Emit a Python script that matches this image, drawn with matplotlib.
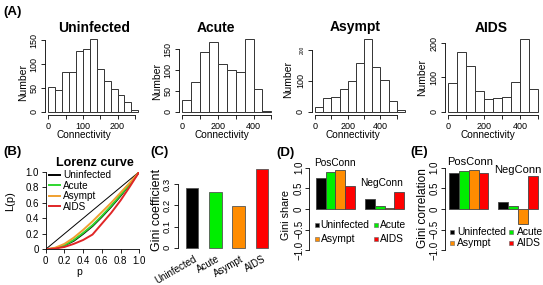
import numpy as np
import matplotlib
matplotlib.use("Agg")
import matplotlib.pyplot as plt

plt.rcParams["font.family"] = ["Liberation Sans", "DejaVu Sans"]
plt.rcParams["axes.linewidth"] = 0.6

W, H = 543, 285

groups = ["Uninfected", "Acute", "Asympt", "AIDS"]
bar_colors = ["#000000", "#00ee00", "#ff8c00", "#ff0000"]
line_colors = ["#000000", "#2fd62f", "#f0a030", "#e02626"]

# (A) connectivity histograms: bin edges and counts per stage
unin_edges = [0, 20, 40, 60, 80, 100, 120, 140, 160, 180, 200, 220, 240, 260]
unin_counts = [51, 45, 83, 83, 127, 131, 152, 89, 65, 47, 35, 21, 3]
acute_edges = [0, 50, 100, 150, 200, 250, 300, 350, 400, 450, 500]
acute_counts = [27, 72, 144, 168, 115, 99, 95, 174, 54, 1]
asympt_edges = [0, 50, 100, 150, 200, 250, 300, 350, 400, 450, 500, 550]
asympt_counts = [14, 42, 48, 74, 100, 156, 233, 145, 103, 33, 4]
aids_edges = [0, 50, 100, 150, 200, 250, 300, 350, 400, 450, 500]
aids_counts = [85, 174, 134, 60, 36, 41, 44, 86, 212, 67]

hist_xticks = [[0, 50, 100, 150, 200, 250],
               [0, 100, 200, 300, 400, 500],
               [0, 100, 200, 300, 400, 500],
               [0, 100, 200, 300, 400, 500]]
hist_xticklabels = [["0", "", "100", "", "200", ""],
                    ["0", "", "200", "", "400", ""],
                    ["0", "", "200", "", "400", ""],
                    ["0", "", "200", "", "400", ""]]
hist_yticks = [[0, 50, 100, 150], [0, 50, 100, 150], [0, 100, 200], [0, 100, 200]]

# (B) Lorenz curves
lorenz_p = [0.0, 0.1, 0.2, 0.3, 0.4, 0.5, 0.6, 0.7, 0.8, 0.9, 1.0]
lorenz_unin = [0.0, 0.01, 0.05, 0.11, 0.20, 0.30, 0.42, 0.55, 0.69, 0.84, 1.0]
lorenz_acute = [0.0, 0.01, 0.05, 0.12, 0.21, 0.31, 0.43, 0.56, 0.70, 0.84, 1.0]
lorenz_asympt = [0.0, 0.02, 0.07, 0.15, 0.25, 0.36, 0.48, 0.60, 0.73, 0.86, 1.0]
lorenz_aids = [0.0, 0.01, 0.03, 0.07, 0.12, 0.19, 0.33, 0.47, 0.63, 0.81, 1.0]

# (C) Gini coefficient
gini = [0.28, 0.265, 0.197, 0.37]

# (D) Gini share, (E) Gini correlation
conn_types = ["PosConn", "NegConn"]
share_pos = [0.74, 0.90, 0.95, 0.56]
share_neg = [0.24, 0.07, 0.03, 0.41]
corr_pos = [0.86, 0.91, 0.95, 0.87]
corr_neg = [0.18, 0.08, -0.37, 0.79]

fig = plt.figure(figsize=(W / 100, H / 100), dpi=100)

ov = fig.add_axes([0, 0, 1, 1])
ov.set_xlim(0, W)
ov.set_ylim(H, 0)
ov.axis("off")
ov.set_zorder(10)


def add_box(box):
    l, t, r, b = box
    return fig.add_axes([l / W, 1 - b / H, (r - l) / W, (b - t) / H])


def label_at(axis, box, x, y):
    l, t, r, b = box
    axis.set_label_coords((x - l) / (r - l), (b - y) / (b - t))


def r_style(ax, offset=2.5):
    for s in ["top", "right"]:
        ax.spines[s].set_visible(False)
    ax.spines["left"].set_position(("outward", offset))
    ax.spines["bottom"].set_position(("outward", offset))
    ax.tick_params(direction="out", length=2.6, width=0.6, pad=2.2, labelsize=6.5)


# ---- (A)
hist_edges = [unin_edges, acute_edges, asympt_edges, aids_edges]
hist_counts = [unin_counts, acute_counts, asympt_counts, aids_counts]
hist_boxes = [(48.3, 39.3, 138.3, 111.5), (182.3, 39.3, 271.3, 111.5),
              (315, 39.3, 405, 111.5), (448.3, 39.3, 538.3, 111.5)]
title_xy = [(94.2, 31.5), (216, 31.5), (355, 31.5), (490.8, 31.5)]
ylab_xy = [(23, 82.5), (156.7, 81.7), (288.3, 79), (421.7, 77.5)]
xlab_xy = [(84, 134.5), (222, 134.5), (353.3, 134.5), (488.3, 134.5)]

for i, g in enumerate(groups):
    box = hist_boxes[i]
    ax = add_box(box)
    edges = np.array(hist_edges[i])
    counts = hist_counts[i]
    ax.bar(edges[:-1], counts, width=np.diff(edges), align="edge",
           color="white", edgecolor="#333333", linewidth=0.7, clip_on=False)
    ax.set_xlim(edges[0], edges[-1])
    ax.set_ylim(0, max(counts))
    r_style(ax)
    ax.set_xticks(hist_xticks[i], hist_xticklabels[i])
    ax.set_yticks(hist_yticks[i], [str(v) for v in hist_yticks[i]],
                  rotation=90, va="center")
    ax.spines["left"].set_bounds(0, hist_yticks[i][-1])
    ax.spines["bottom"].set_bounds(0, hist_xticks[i][-1])
    if g == "Asympt":
        ax.get_yticklabels()[-1].set_fontsize(3.5)
    ax.set_xlabel("Connectivity", fontsize=7.2, va="center")
    ax.set_ylabel("Number", fontsize=7.5, va="center")
    label_at(ax.xaxis, box, *xlab_xy[i])
    label_at(ax.yaxis, box, *ylab_xy[i])
    ov.text(title_xy[i][0], title_xy[i][1], g, fontsize=10, fontweight="bold",
            ha="center", va="baseline")

# ---- (B)
box_b = (45.7, 171.7, 139.3, 249.3)
axb = add_box(box_b)
axb.plot([0, 1], [0, 1], color="black", lw=0.7)
for ys, c in zip([lorenz_unin, lorenz_acute, lorenz_asympt, lorenz_aids], line_colors):
    axb.plot(lorenz_p, ys, color=c, lw=1.4)
axb.set_xlim(0, 1)
axb.set_ylim(0, 1)
r_style(axb, offset=0)
axb.tick_params(labelsize=7, length=3, pad=2)
ticks = [0, 0.2, 0.4, 0.6, 0.8, 1.0]
tlabels = ["0", "0.2", "0.4", "0.6", "0.8", "1.0"]
axb.set_xticks(ticks, tlabels)
axb.set_yticks(ticks, tlabels)
axb.set_xlabel("p", fontsize=7.5, va="center")
axb.set_ylabel("L(p)", fontsize=8, va="center")
label_at(axb.xaxis, box_b, 79, 271.7)
label_at(axb.yaxis, box_b, 10, 201)
handles = [plt.Line2D([], [], color=c, lw=1.4) for c in line_colors]
axb.legend(handles, groups, loc="upper left", bbox_to_anchor=(0.035, 1.02),
           frameon=False, fontsize=7.2, handlelength=1.1, handletextpad=0.3,
           labelspacing=0.05, borderaxespad=0, borderpad=0)
ov.text(95, 166.5, "Lorenz curve", fontsize=9, fontweight="bold",
        ha="center", va="baseline")

# ---- (C)
box_c = (181, 169, 271, 249)
axc = add_box(box_c)
xc = np.arange(len(groups))
axc.bar(xc, gini, width=0.545, color=bar_colors, edgecolor="#555555", linewidth=0.6)
axc.set_xlim(-0.47, 3.39)
axc.set_ylim(-0.006, 0.372)
r_style(axc, offset=2)
axc.spines["bottom"].set_visible(False)
axc.spines["left"].set_bounds(0, 0.3)
axc.set_yticks([0, 0.1, 0.2, 0.3], ["0", "0.1", "0.2", "0.3"], rotation=90, va="center")
axc.tick_params(labelsize=6.8)
axc.set_xticks(xc + 0.05, groups, rotation=30, ha="right", va="top",
               rotation_mode="anchor", fontsize=7.0)
axc.tick_params(axis="x", length=0, pad=1.5)
axc.set_ylabel("Gini coefficient", fontsize=9, va="center")
label_at(axc.yaxis, box_c, 156.7, 210)

# ---- (D) and (E)
def grouped(ax, box, pos, neg, ylim, xlim, ylab, ylab_xy, ylab_size):
    for gi, vals in enumerate([pos, neg]):
        x = gi * 5 + np.arange(len(vals)) + 0.5
        ax.bar(x, vals, width=1.0, color=bar_colors, edgecolor="#444444", linewidth=0.6)
    ax.set_xlim(*xlim)
    ax.set_ylim(*ylim)
    r_style(ax, offset=0)
    ax.spines["bottom"].set_visible(False)
    ax.spines["left"].set_bounds(-1, 1)
    ax.set_xticks([])
    ax.set_yticks([-1, -0.5, 0, 0.5, 1], ["\u22121.0", "\u22120.5", "0", "0.5", "1.0"],
                  rotation=90, va="center")
    ax.tick_params(axis="y", labelsize=7, length=3, pad=0.8)
    ax.set_ylabel(ylab, fontsize=ylab_size, va="center")
    label_at(ax.yaxis, box, *ylab_xy)


box_d = (309.3, 160, 407, 255)
axd = add_box(box_d)
grouped(axd, box_d, share_pos, share_neg, (-1.114, 1.186), (-0.65, 9.27),
        "Gini share", (286, 215), 7.8)
box_e = (445, 158, 541, 255)
axe = add_box(box_e)
grouped(axe, box_e, corr_pos, corr_neg, (-1.114, 1.235), (-0.41, 9.34),
        "Gini correlation", (423.3, 208.3), 8.6)

ov.text(335, 163.3, conn_types[0], fontsize=7.3, ha="center", va="center")
ov.text(381.7, 183.3, conn_types[1], fontsize=7.3, ha="center", va="center")
ov.text(470, 161.7, conn_types[0], fontsize=8, ha="center", va="center")
ov.text(518.3, 170, conn_types[1], fontsize=8, ha="center", va="center")

# manual two-column legends (R style)
leg_d = [(316.7, 225), (376, 225), (316.7, 239.3), (376, 239.3)]
leg_e = [(451.7, 231.7), (511, 231.7), (451.7, 243.3), (511, 243.3)]
for pts, gap, ms in [(leg_d, 3.8, 3.0), (leg_e, 5.5, 3.4)]:
    for (x, y), g, c in zip(pts, groups, bar_colors):
        ov.plot([x], [y], marker="s", ms=ms, color=c, mec="#666666", mew=0.4, ls="none")
        ov.text(x + gap, y, g, fontsize=7.4, ha="left", va="center")

# panel letters
for s, x, y in [("(A)", 3, 12), ("(B)", 3, 151.7), ("(C)", 150, 151.7),
                ("(D)", 276.5, 153), ("(E)", 410, 151.7)]:
    ov.text(x, y, s, fontsize=9.5, fontweight="bold", ha="left", va="center")

fig.savefig("out.png", dpi=100)
